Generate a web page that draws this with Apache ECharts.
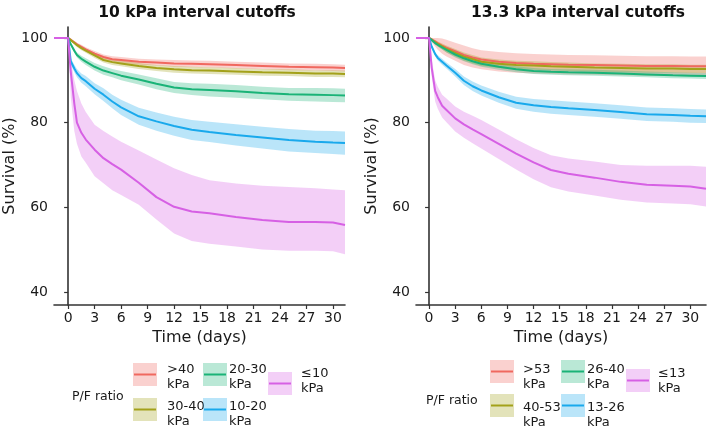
<!DOCTYPE html>
<html>
<head>
<meta charset="utf-8">
<script src="https://cdn.jsdelivr.net/npm/echarts@6/dist/echarts.min.js"></script>
<style>
  html, body { margin: 0; padding: 0; background: #fff; }
  #chart { width: 709px; height: 430px; }
</style>
</head>
<body>
<div id="chart"></div>
<script>
// time points (days)
var timeL = [-1.6, 0, 0.3, 0.7, 1, 1.5, 2, 3, 4, 5, 6, 8, 10, 12, 14, 16, 19, 22, 25, 28, 30, 31.36]
var timeR = [-1.5, 0, 0.3, 0.7, 1, 1.5, 2, 3, 4, 5, 6, 8, 10, 12, 14, 16, 19, 22, 25, 28, 30, 31.8]
var xTicks = [0, 3, 6, 9, 12, 15, 18, 21, 24, 27, 30]
var yTicks = [40, 60, 80, 100]

var colors = ['#F0685F', '#A3A11A', '#1AB377', '#19A9EC', '#D660E4']

// 10 kPa interval cutoffs
var namesL = ['>40\nkPa', '30-40\nkPa', '20-30\nkPa', '10-20\nkPa', '≤10\nkPa']
var l40 = [100, 100, 99.6, 99.0, 98.5, 97.9, 97.3, 96.3, 95.5, 95.0, 94.8, 94.4, 94.2, 94.0, 93.9, 93.8, 93.6, 93.4, 93.2, 93.1, 93.0, 92.9]
var l40lo = [100, 100, 99.4, 98.7, 98.1, 97.4, 96.8, 95.7, 94.9, 94.3, 94.1, 93.7, 93.5, 93.2, 93.1, 93.0, 92.8, 92.6, 92.4, 92.3, 92.2, 92.1]
var l40hi = [100, 100, 99.8, 99.3, 98.9, 98.4, 97.8, 96.9, 96.1, 95.7, 95.5, 95.1, 94.9, 94.8, 94.7, 94.6, 94.4, 94.2, 94.0, 93.9, 93.8, 93.7]
var l30 = [100, 100, 99.5, 98.8, 98.3, 97.6, 97.0, 95.9, 94.8, 94.3, 94.0, 93.4, 92.9, 92.6, 92.4, 92.3, 92.1, 91.9, 91.8, 91.6, 91.6, 91.5]
var l30lo = [100, 100, 99.3, 98.5, 97.9, 97.1, 96.5, 95.3, 94.2, 93.6, 93.3, 92.7, 92.2, 91.8, 91.6, 91.5, 91.3, 91.1, 91.0, 90.8, 90.8, 90.7]
var l30hi = [100, 100, 99.7, 99.1, 98.7, 98.1, 97.5, 96.5, 95.4, 95.0, 94.7, 94.1, 93.6, 93.4, 93.2, 93.1, 92.9, 92.7, 92.6, 92.4, 92.4, 92.3]
var l20 = [100, 100, 98.5, 97.0, 96.0, 95.1, 94.4, 93.2, 92.3, 91.7, 91.1, 90.2, 89.2, 88.3, 87.9, 87.7, 87.4, 87.0, 86.7, 86.6, 86.5, 86.4]
var l20lo = [100, 100, 98.2, 96.5, 95.4, 94.4, 93.6, 92.3, 91.3, 90.7, 90.0, 89.0, 87.9, 87.0, 86.5, 86.2, 85.9, 85.5, 85.2, 85.0, 84.9, 84.8]
var l20hi = [100, 100, 98.8, 97.5, 96.6, 95.8, 95.2, 94.1, 93.3, 92.7, 92.2, 91.4, 90.5, 89.6, 89.3, 89.2, 88.9, 88.5, 88.2, 88.2, 88.1, 88.0]
var l10 = [100, 100, 94.5, 92.8, 91.7, 90.5, 89.8, 88.0, 86.6, 85.0, 83.6, 81.5, 80.3, 79.2, 78.3, 77.8, 77.1, 76.5, 75.9, 75.5, 75.3, 75.2]
var l10lo = [100, 100, 93.8, 91.9, 90.7, 89.4, 88.6, 86.7, 85.1, 83.4, 81.8, 79.5, 78.1, 76.9, 75.9, 75.4, 74.6, 73.9, 73.2, 72.8, 72.6, 72.4]
var l10hi = [100, 100, 95.2, 93.7, 92.7, 91.6, 91.0, 89.3, 88.1, 86.6, 85.4, 83.5, 82.4, 81.4, 80.6, 80.2, 79.6, 79.0, 78.5, 78.1, 78.0, 77.9]
var l0 = [100, 100, 92, 84.5, 80, 77.6, 76.0, 73.6, 71.6, 70.2, 68.9, 65.8, 62.4, 60.1, 59.0, 58.6, 57.7, 57.0, 56.5, 56.5, 56.4, 55.8]
var l0lo = [100, 100, 86, 78, 75, 72, 70.5, 67.3, 65.7, 64, 62.9, 60.6, 57.1, 53.8, 52.0, 51.4, 50.7, 50.0, 49.7, 49.7, 49.6, 48.9]
var l0hi = [100, 100, 95, 90, 87.5, 84.5, 82.5, 79.5, 78.0, 76.7, 75.5, 73.4, 71.3, 69.2, 67.6, 66.4, 65.6, 65.1, 64.8, 64.5, 64.2, 64.0]

// 13.3 kPa interval cutoffs
var namesR = ['>53\nkPa', '40-53\nkPa', '26-40\nkPa', '13-26\nkPa', '≤13\nkPa']
var r53 = [100, 100, 99.7, 99.2, 98.8, 98.2, 97.7, 96.9, 96.0, 95.4, 94.9, 94.4, 94.1, 93.9, 93.8, 93.7, 93.6, 93.5, 93.4, 93.4, 93.3, 93.3]
var r53lo = [100, 100, 99.0, 98.0, 97.2, 96.3, 95.6, 94.6, 93.6, 93.0, 92.6, 92.1, 91.8, 91.6, 91.5, 91.4, 91.3, 91.2, 91.1, 91.1, 91.0, 91.0]
var r53hi = [100, 100, 100, 100, 100, 99.9, 99.6, 98.9, 98.2, 97.6, 97.1, 96.7, 96.4, 96.2, 96.1, 96.0, 95.9, 95.8, 95.7, 95.7, 95.6, 95.6]
var r40 = [100, 100, 99.6, 99.0, 98.6, 98.0, 97.4, 96.5, 95.6, 95.0, 94.4, 93.9, 93.6, 93.5, 93.3, 93.2, 93.0, 92.9, 92.8, 92.8, 92.7, 92.7]
var r40lo = [100, 100, 99.4, 98.5, 98.0, 97.3, 96.6, 95.6, 94.6, 94.0, 93.4, 92.9, 92.6, 92.5, 92.3, 92.2, 92.0, 91.9, 91.8, 91.8, 91.7, 91.7]
var r40hi = [100, 100, 99.8, 99.5, 99.2, 98.7, 98.2, 97.4, 96.6, 96.0, 95.4, 94.9, 94.6, 94.5, 94.3, 94.2, 94.0, 93.9, 93.8, 93.8, 93.7, 93.7]
var r26 = [100, 100, 99.5, 98.8, 98.4, 97.8, 97.2, 96.1, 95.2, 94.5, 93.9, 93.2, 92.6, 92.2, 92.0, 91.9, 91.8, 91.6, 91.4, 91.2, 91.1, 91.0]
var r26lo = [100, 100, 99.3, 98.4, 98.0, 97.3, 96.6, 95.4, 94.5, 93.8, 93.2, 92.5, 91.9, 91.5, 91.3, 91.2, 91.1, 90.9, 90.7, 90.5, 90.4, 90.3]
var r26hi = [100, 100, 99.7, 99.2, 98.8, 98.3, 97.8, 96.8, 95.9, 95.2, 94.6, 93.9, 93.3, 92.9, 92.7, 92.6, 92.5, 92.3, 92.1, 91.9, 91.8, 91.7]
var r13 = [100, 100, 98, 96.2, 95.3, 94.4, 93.5, 91.8, 89.9, 88.6, 87.6, 86.0, 84.7, 84.1, 83.7, 83.4, 83.0, 82.5, 82.0, 81.8, 81.6, 81.5]
var r13lo = [100, 100, 97.7, 95.7, 94.7, 93.7, 92.8, 90.9, 88.9, 87.5, 86.4, 84.7, 83.3, 82.6, 82.1, 81.8, 81.4, 80.9, 80.4, 80.2, 80.0, 79.9]
var r13hi = [100, 100, 98.3, 96.7, 95.9, 95.1, 94.2, 92.7, 90.9, 89.7, 88.8, 87.3, 86.1, 85.6, 85.3, 85.0, 84.6, 84.1, 83.6, 83.4, 83.2, 83.1]
var r0 = [100, 100, 93, 87.5, 86, 84, 83, 81, 79.6, 78.4, 77.3, 75, 72.7, 70.6, 68.8, 67.9, 67.0, 66.0, 65.3, 65.1, 64.9, 64.4]
var r0lo = [100, 100, 91, 85, 83.3, 81.2, 80.1, 77.9, 76.4, 75.1, 73.9, 71.4, 68.9, 66.6, 64.7, 63.7, 62.8, 61.8, 61.1, 60.9, 60.7, 60.2]
var r0hi = [100, 100, 95, 90, 88.5, 86.6, 85.7, 83.8, 82.6, 81.6, 80.6, 78.4, 76.1, 74.0, 72.3, 71.5, 70.8, 70.0, 69.8, 69.8, 69.8, 69.6]

var groupsL = [
  { name: namesL[0], color: colors[0], c: l40, lo: l40lo, hi: l40hi },
  { name: namesL[1], color: colors[1], c: l30, lo: l30lo, hi: l30hi },
  { name: namesL[2], color: colors[2], c: l20, lo: l20lo, hi: l20hi },
  { name: namesL[3], color: colors[3], c: l10, lo: l10lo, hi: l10hi },
  { name: namesL[4], color: colors[4], c: l0, lo: l0lo, hi: l0hi }
]
var groupsR = [
  { name: namesR[0], color: colors[0], c: r53, lo: r53lo, hi: r53hi },
  { name: namesR[1], color: colors[1], c: r40, lo: r40lo, hi: r40hi },
  { name: namesR[2], color: colors[2], c: r26, lo: r26lo, hi: r26hi },
  { name: namesR[3], color: colors[3], c: r13, lo: r13lo, hi: r13hi },
  { name: namesR[4], color: colors[4], c: r0, lo: r0lo, hi: r0hi }
]

var FONT = 'DejaVu Sans'
var TXT = '#1a1a1a'

function rgba(hex, a) {
  var n = parseInt(hex.slice(1), 16)
  return 'rgba(' + (n >> 16) + ',' + ((n >> 8) & 255) + ',' + (n & 255) + ',' + a + ')'
}

function panelSeries(idx, time, groups) {
  var out = []
  // confidence bands: one polygon per group, lower edge then upper edge back
  groups.forEach(function (g) {
    out.push({
      type: 'custom', xAxisIndex: idx, yAxisIndex: idx, silent: true, z: 1,
      encode: { x: 0, y: [1, 2] },
      data: time.map(function (t, i) { return [t, g.lo[i], g.hi[i]] }),
      renderItem: function (params, api) {
        if (params.dataIndex !== 0) return
        var pts = []
        for (var i = 0; i < time.length; i++) pts.push(api.coord([time[i], g.lo[i]]))
        for (var j = time.length - 1; j >= 0; j--) pts.push(api.coord([time[j], g.hi[j]]))
        return { type: 'polygon', shape: { points: pts }, style: { fill: rgba(g.color, 0.3) } }
      }
    })
  })
  groups.forEach(function (g) {
    out.push({
      type: 'line', xAxisIndex: idx, yAxisIndex: idx, name: g.name,
      symbol: 'none', z: 3,
      lineStyle: { color: g.color, width: 2 },
      data: time.map(function (t, i) { return [t, g.c[i]] })
    })
  })
  return out
}

// legend drawn by hand: a light box with a line through it, two-line label
var slots = [[0, 0], [0, 1], [1, 0], [1, 1], [2, 0]]
function legendGraphics(groups, o) {
  var els = [{
    type: 'text',
    style: { x: o.labelX, y: o.labelY, text: 'P/F ratio', fill: TXT, fontFamily: FONT, fontSize: 12.5, verticalAlign: 'middle' }
  }]
  groups.forEach(function (g, i) {
    var col = slots[i][0], row = slots[i][1]
    var kx = o.keyX[col]
    var ky = col === 2 ? o.col3Y : o.keyY[row]
    var ty = col === 2 ? o.col3TextY : o.textY[row]
    els.push({ type: 'rect', shape: { x: kx, y: ky, width: 24, height: 23 }, style: { fill: rgba(g.color, 0.3) } })
    els.push({ type: 'line', shape: { x1: kx + 1, y1: ky + 11.5, x2: kx + 23, y2: ky + 11.5 }, style: { stroke: g.color, lineWidth: 2 } })
    els.push({
      type: 'text',
      style: { x: o.textX[col], y: ty, text: g.name, fill: TXT, fontFamily: FONT, fontSize: 13, lineHeight: 15, verticalAlign: 'middle' }
    })
  })
  return els
}

function xAxisOf(idx, min, max) {
  return {
    type: 'value', gridIndex: idx, min: min, max: max,
    name: 'Time (days)', nameLocation: 'middle', nameGap: 23,
    nameTextStyle: { fontFamily: FONT, fontSize: 16, color: TXT },
    axisLine: { show: true, onZero: false, lineStyle: { color: '#333', width: 1.6 } },
    axisTick: { show: true, length: 4, customValues: xTicks, lineStyle: { color: '#333', width: 1.2 } },
    axisLabel: { customValues: xTicks, margin: 6, fontFamily: FONT, fontSize: 14, color: TXT },
    splitLine: { show: false }
  }
}
function yAxisOf(idx) {
  return {
    type: 'value', gridIndex: idx, min: 36.9, max: 102.6,
    name: 'Survival (%)', nameLocation: 'middle', nameGap: 36,
    nameTextStyle: { fontFamily: FONT, fontSize: 16, color: TXT },
    axisLine: { show: true, lineStyle: { color: '#333', width: 1.6 } },
    axisTick: { show: true, length: 4, customValues: yTicks, lineStyle: { color: '#333', width: 1.2 } },
    axisLabel: { customValues: yTicks, margin: 6, fontFamily: FONT, fontSize: 14, color: TXT },
    splitLine: { show: false }
  }
}

var myChart = echarts.init(document.getElementById('chart'))
var option = {
  animation: false,
  backgroundColor: '#fff',
  title: [
    { text: '10 kPa interval cutoffs', left: 197, top: 5, padding: 0, textAlign: 'center',
      textStyle: { fontFamily: FONT, fontWeight: 'bold', fontSize: 15.5, color: '#111' } },
    { text: '13.3 kPa interval cutoffs', left: 578, top: 5, padding: 0, textAlign: 'center',
      textStyle: { fontFamily: FONT, fontWeight: 'bold', fontSize: 15.5, color: '#111' } }
  ],
  grid: [
    { left: 54, top: 27, width: 291, height: 278 },
    { left: 416, top: 27, width: 290, height: 278 }
  ],
  xAxis: [xAxisOf(0, -1.6, 31.36), xAxisOf(1, -1.5, 31.8)],
  yAxis: [yAxisOf(0), yAxisOf(1)],
  series: panelSeries(0, timeL, groupsL).concat(panelSeries(1, timeR, groupsR)),
  graphic: legendGraphics(groupsL, {
    labelX: 72, labelY: 397, keyX: [133, 203, 268], keyY: [363, 398], col3Y: 372,
    textX: [167, 229, 301], textY: [377, 414], col3TextY: 381
  }).concat(legendGraphics(groupsR, {
    labelX: 426, labelY: 401, keyX: [490, 561, 626], keyY: [360, 394], col3Y: 369,
    textX: [523, 587, 658], textY: [377, 415], col3TextY: 381
  }))
}
myChart.setOption(option)
</script>
</body>
</html>
